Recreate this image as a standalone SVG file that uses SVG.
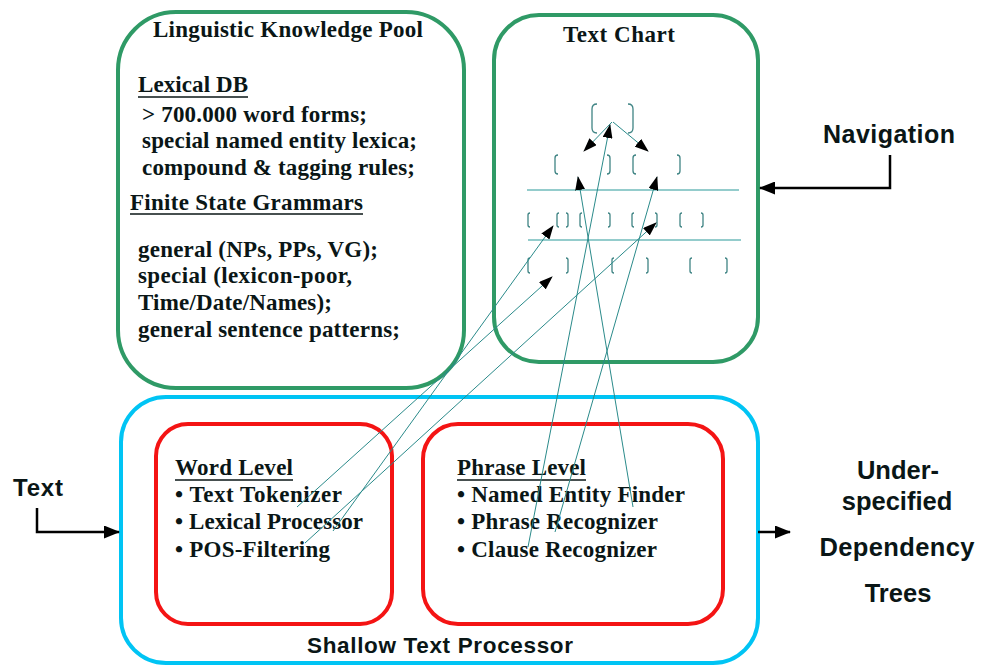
<svg xmlns="http://www.w3.org/2000/svg" width="984" height="666" viewBox="0 0 984 666">
  <style>
    .green { fill: none; stroke: #2f9a66; stroke-width: 4; }
    .cyan { fill: none; stroke: #00c4f4; stroke-width: 4; }
    .red { fill: none; stroke: #f41414; stroke-width: 4; }
    .serif { font-family: "Liberation Serif", "Times New Roman", serif; font-weight: bold; font-size: 23px; fill: #0a1616; }
    .sans { font-family: "Liberation Sans", Arial, sans-serif; font-weight: bold; fill: #0a1616; }
    .ul { stroke: #0a1616; stroke-width: 1.6; }
    .brk { fill: none; stroke: #3f8484; stroke-width: 1.3; }
    .rule { stroke: #2a9a9a; stroke-width: 1.2; }
    .link { fill: none; stroke: #2a8a8a; stroke-width: 1; marker-end: url(#ah); }
    .flow { fill: none; stroke: #000; stroke-width: 2.5; marker-end: url(#ahBig); }
  </style>
  <defs>
    <marker id="ah" markerWidth="14" markerHeight="10" refX="13" refY="5" orient="auto" markerUnits="userSpaceOnUse">
      <path d="M0,0 L14,5 L0,10 z" fill="#000"/>
    </marker>
    <marker id="ahBig" markerWidth="16" markerHeight="13" refX="15" refY="6.5" orient="auto" markerUnits="userSpaceOnUse">
      <path d="M0,0 L16,6.5 L0,13 z" fill="#000"/>
    </marker>
  </defs>

  <rect width="984" height="666" fill="#fff"/>

  <!-- Linguistic Knowledge Pool -->
  <g id="knowledge-pool">
    <rect class="green" x="118" y="12" width="346" height="376" rx="58" ry="58"/>
    <text class="serif" x="153" y="37" textLength="270">Linguistic Knowledge Pool</text>
    <text class="serif" x="138" y="92" textLength="110">Lexical DB</text>
    <line class="ul" x1="138" y1="97" x2="248" y2="97"/>
    <text class="serif" x="142" y="122" textLength="225">&gt; 700.000 word forms;</text>
    <text class="serif" x="142" y="148" textLength="275">special named entity lexica;</text>
    <text class="serif" x="142" y="175" textLength="273">compound &amp; tagging rules;</text>
    <text class="serif" x="130" y="210" textLength="233">Finite State Grammars</text>
    <line class="ul" x1="130" y1="214" x2="363" y2="214"/>
    <text class="serif" x="138" y="257" textLength="240">general (NPs, PPs, VG);</text>
    <text class="serif" x="138" y="283" textLength="214">special (lexicon-poor,</text>
    <text class="serif" x="138" y="310" textLength="194">Time/Date/Names);</text>
    <text class="serif" x="138" y="337" textLength="262">general sentence patterns;</text>
  </g>

  <!-- Text Chart -->
  <g id="text-chart">
    <rect class="green" x="494" y="15" width="264" height="347" rx="45" ry="45"/>
    <text class="serif" x="563" y="42" font-size="22" textLength="112">Text Chart</text>
    <line class="rule" x1="527" y1="190" x2="739" y2="190"/>
    <line class="rule" x1="528" y1="240" x2="741" y2="240"/>
    <!-- top span -->
    <path class="brk" d="M597,104 Q592,104 592,109 V128 Q592,133 597,133"/>
    <path class="brk" d="M628,104 Q633,104 633,109 V128 Q633,133 628,133"/>
    <!-- second row -->
    <path class="brk" d="M558,155 Q555,155 555,158 V171 Q555,174 558,174"/>
    <path class="brk" d="M607,155 Q610,155 610,158 V171 Q610,174 607,174"/>
    <path class="brk" d="M636,155 Q633,155 633,158 V171 Q633,174 636,174"/>
    <path class="brk" d="M677,155 Q680,155 680,158 V171 Q680,174 677,174"/>
    <!-- third row -->
    <path class="brk" d="M530,213 Q528,213 528,215 V225 Q528,227 530,227"/>
    <path class="brk" d="M559,213 Q557,213 557,215 V225 Q557,227 559,227"/>
    <path class="brk" d="M566,213 Q568,213 568,215 V225 Q568,227 566,227"/>
    <path class="brk" d="M582,213 Q580,213 580,215 V225 Q580,227 582,227"/>
    <path class="brk" d="M608,213 Q610,213 610,215 V225 Q610,227 608,227"/>
    <path class="brk" d="M634,213 Q632,213 632,215 V225 Q632,227 634,227"/>
    <path class="brk" d="M655,213 Q657,213 657,215 V225 Q657,227 655,227"/>
    <path class="brk" d="M682,213 Q680,213 680,215 V225 Q680,227 682,227"/>
    <path class="brk" d="M701,213 Q703,213 703,215 V225 Q703,227 701,227"/>
    <!-- fourth row -->
    <path class="brk" d="M530,258 Q528,258 528,260 V271 Q528,273 530,273"/>
    <path class="brk" d="M566,258 Q568,258 568,260 V271 Q568,273 566,273"/>
    <path class="brk" d="M614,258 Q612,258 612,260 V271 Q612,273 614,273"/>
    <path class="brk" d="M646,258 Q648,258 648,260 V271 Q648,273 646,273"/>
    <path class="brk" d="M692,258 Q690,258 690,260 V271 Q690,273 692,273"/>
    <path class="brk" d="M725,258 Q727,258 727,260 V271 Q727,273 725,273"/>
  </g>

  <!-- Shallow Text Processor -->
  <g id="shallow-text-processor">
    <rect class="cyan" x="121" y="397" width="637" height="266" rx="45" ry="45"/>
    <text class="sans" x="440" y="653" font-size="22.5" text-anchor="middle" textLength="266">Shallow Text Processor</text>
  </g>

  <!-- Word Level -->
  <g id="word-level">
    <rect class="red" x="156" y="424" width="236" height="200" rx="32" ry="32"/>
    <text class="serif" x="175" y="475" textLength="118">Word Level</text>
    <line class="ul" x1="175" y1="480" x2="293" y2="480"/>
    <text class="serif" x="175" y="502" textLength="167">• Text Tokenizer</text>
    <text class="serif" x="175" y="529" textLength="188">• Lexical Processor</text>
    <text class="serif" x="175" y="557" textLength="155">• POS-Filtering</text>
  </g>

  <!-- Phrase Level -->
  <g id="phrase-level">
    <rect class="red" x="423" y="424" width="300" height="200" rx="35" ry="35"/>
    <text class="serif" x="457" y="475" textLength="129">Phrase Level</text>
    <line class="ul" x1="457" y1="480" x2="586" y2="480"/>
    <text class="serif" x="457" y="502" textLength="228">• Named Entity Finder</text>
    <text class="serif" x="457" y="529" textLength="201">• Phrase Recognizer</text>
    <text class="serif" x="457" y="557" textLength="200">• Clause Recognizer</text>
  </g>

  <!-- External labels -->
  <g id="navigation">
    <text class="sans" x="823" y="143" font-size="25" textLength="132">Navigation</text>
  </g>
  <g id="text-input">
    <text class="sans" x="13" y="496" font-size="24" textLength="50">Text</text>
  </g>
  <g id="dependency-trees">
    <text class="sans" x="898" y="479" font-size="25.5" text-anchor="middle">Under-</text>
    <text class="sans" x="897" y="510" font-size="25.5" text-anchor="middle">specified</text>
    <text class="sans" x="897" y="556" font-size="25.5" text-anchor="middle" textLength="155">Dependency</text>
    <text class="sans" x="898" y="602" font-size="25.5" text-anchor="middle">Trees</text>
  </g>

  <!-- Connectors -->
  <g id="connectors">
    <!-- chart edges -->
    <path class="link" d="M612,122 L584,151"/>
    <path class="link" d="M613,122 L648,151"/>
    <!-- word level into chart -->
    <path class="link" d="M297,507 L552,277"/>
    <path class="link" d="M333,531 L553,226"/>
    <path class="link" d="M305,543 L656,223"/>
    <!-- phrase level into chart -->
    <path class="link" d="M528,547 L610,125"/>
    <path class="link" d="M555,532 L657,177"/>
    <path class="link" d="M633,507 L578,177"/>
    <!-- input / output / navigation -->
    <path class="flow" d="M37,508 V532 H119"/>
    <path class="flow" d="M758,532 H790"/>
    <path class="flow" d="M890,155 V188 H760"/>
  </g>
</svg>
